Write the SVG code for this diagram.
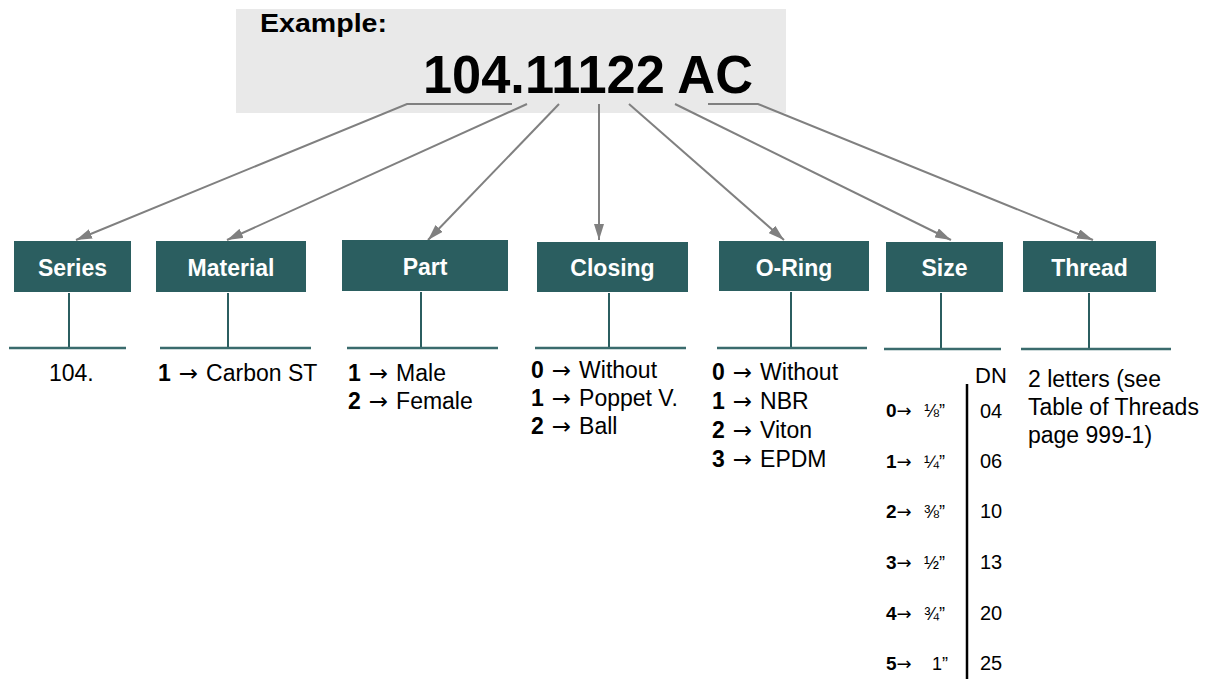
<svg xmlns="http://www.w3.org/2000/svg" width="1218" height="679" viewBox="0 0 1218 679">
<style>
text{font-family:"Liberation Sans",Arial,sans-serif;fill:#000}
.box{fill:#2B5E60}
.lbl{font-size:23px;font-weight:bold;fill:#fff;text-anchor:middle}
.stem{stroke:#2B5E60;stroke-width:2;fill:none}
.base{stroke:#3A6B6D;stroke-width:2.5;fill:none}
.con{stroke:#808080;stroke-width:2;fill:none}
.t{font-size:23px}
.b{font-weight:bold}
.a{font-family:"DejaVu Sans",sans-serif}
.s{font-size:20px}
.sd{font-size:19px;font-weight:bold}
.fr{font-size:18px}
</style>
<defs>
<marker id="ah" viewBox="0 0 16 10" refX="16" refY="5" markerWidth="16" markerHeight="10" markerUnits="userSpaceOnUse" orient="auto">
<path d="M0,0 L16,5 L0,10 z" fill="#808080"/>
</marker>
</defs>
<rect x="0" y="0" width="1218" height="679" fill="#fff"/>
<g id="header">
<rect x="236" y="9" width="550" height="104" fill="#E9E9E9"/>
<text x="260" y="32" font-size="25" font-weight="bold" textLength="127" lengthAdjust="spacingAndGlyphs">Example:</text>
<text x="423" y="93" font-size="53" font-weight="bold" textLength="330" lengthAdjust="spacingAndGlyphs">104.11122 AC</text>
</g>
<g id="connectors">
<polyline class="con" points="512,104 407,104 76,240" marker-end="url(#ah)"/>
<line class="con" x1="527" y1="104" x2="227" y2="240" marker-end="url(#ah)"/>
<line class="con" x1="559" y1="104" x2="428" y2="240" marker-end="url(#ah)"/>
<line class="con" x1="599" y1="104" x2="599" y2="240" marker-end="url(#ah)"/>
<line class="con" x1="629" y1="104" x2="784" y2="240" marker-end="url(#ah)"/>
<line class="con" x1="675" y1="104" x2="951" y2="240" marker-end="url(#ah)"/>
<polyline class="con" points="708,104 758,104 1093,240" marker-end="url(#ah)"/>
</g>
<g id="series">
<rect class="box" x="14" y="241" width="117" height="51"/>
<text class="lbl" x="72.5" y="276">Series</text>
<line class="stem" x1="69" y1="293" x2="69" y2="348"/>
<line class="base" x1="9" y1="348" x2="126" y2="348"/>
<text class="t" x="49" y="381">104.</text>
</g>
<g id="material">
<rect class="box" x="156" y="241" width="150" height="51"/>
<text class="lbl" x="231" y="276">Material</text>
<line class="stem" x1="228" y1="293" x2="228" y2="348"/>
<line class="base" x1="160" y1="348" x2="311" y2="348"/>
<text class="t" x="158" y="381"><tspan class="b">1</tspan><tspan class="a" dx="8">→</tspan><tspan dx="8">Carbon ST</tspan></text>
</g>
<g id="part">
<rect class="box" x="342" y="240" width="166" height="51"/>
<text class="lbl" x="425" y="275">Part</text>
<line class="stem" x1="421" y1="292" x2="421" y2="348"/>
<line class="base" x1="347" y1="348" x2="498" y2="348"/>
<text class="t" x="348" y="381"><tspan class="b">1</tspan><tspan class="a" dx="8">→</tspan><tspan dx="8">Male</tspan></text>
<text class="t" x="348" y="409"><tspan class="b">2</tspan><tspan class="a" dx="8">→</tspan><tspan dx="8">Female</tspan></text>
</g>
<g id="closing">
<rect class="box" x="537" y="242" width="151" height="50"/>
<text class="lbl" x="612.5" y="276">Closing</text>
<line class="stem" x1="609" y1="293" x2="609" y2="348"/>
<line class="base" x1="535" y1="348" x2="686" y2="348"/>
<text class="t" x="531" y="378"><tspan class="b">0</tspan><tspan class="a" dx="8">→</tspan><tspan dx="8">Without</tspan></text>
<text class="t" x="531" y="406"><tspan class="b">1</tspan><tspan class="a" dx="8">→</tspan><tspan dx="8">Poppet V.</tspan></text>
<text class="t" x="531" y="434"><tspan class="b">2</tspan><tspan class="a" dx="8">→</tspan><tspan dx="8">Ball</tspan></text>
</g>
<g id="oring">
<rect class="box" x="719" y="241" width="150" height="50"/>
<text class="lbl" x="794" y="276">O-Ring</text>
<line class="stem" x1="791" y1="292" x2="791" y2="348"/>
<line class="base" x1="717" y1="348" x2="867" y2="348"/>
<text class="t" x="712" y="380"><tspan class="b">0</tspan><tspan class="a" dx="8">→</tspan><tspan dx="8">Without</tspan></text>
<text class="t" x="712" y="409"><tspan class="b">1</tspan><tspan class="a" dx="8">→</tspan><tspan dx="8">NBR</tspan></text>
<text class="t" x="712" y="438"><tspan class="b">2</tspan><tspan class="a" dx="8">→</tspan><tspan dx="8">Viton</tspan></text>
<text class="t" x="712" y="467"><tspan class="b">3</tspan><tspan class="a" dx="8">→</tspan><tspan dx="8">EPDM</tspan></text>
</g>
<g id="size">
<rect class="box" x="886" y="242" width="117" height="50"/>
<text class="lbl" x="944.5" y="276">Size</text>
<line class="stem" x1="941" y1="293" x2="941" y2="349"/>
<line class="base" x1="884" y1="349" x2="1001" y2="349"/>
<text x="975" y="383" font-size="22">DN</text>
<line x1="967" y1="384" x2="967" y2="679" stroke="#000" stroke-width="2.5"/>
<text x="886" y="417"><tspan class="sd">0</tspan><tspan class="fr a">→</tspan><tspan class="fr" x="924">⅛”</tspan></text>
<text x="886" y="468"><tspan class="sd">1</tspan><tspan class="fr a">→</tspan><tspan class="fr" x="924">¼”</tspan></text>
<text x="886" y="518"><tspan class="sd">2</tspan><tspan class="fr a">→</tspan><tspan class="fr" x="924">⅜”</tspan></text>
<text x="886" y="569"><tspan class="sd">3</tspan><tspan class="fr a">→</tspan><tspan class="fr" x="924">½”</tspan></text>
<text x="886" y="620"><tspan class="sd">4</tspan><tspan class="fr a">→</tspan><tspan class="fr" x="924">¾”</tspan></text>
<text x="886" y="670"><tspan class="sd">5</tspan><tspan class="fr a">→</tspan><tspan class="fr" x="932">1”</tspan></text>
<text class="s" x="980" y="418">04</text>
<text class="s" x="980" y="468">06</text>
<text class="s" x="980" y="518">10</text>
<text class="s" x="980" y="569">13</text>
<text class="s" x="980" y="620">20</text>
<text class="s" x="980" y="670">25</text>
</g>
<g id="thread">
<rect class="box" x="1023" y="241" width="133" height="51"/>
<text class="lbl" x="1089.5" y="276">Thread</text>
<line class="stem" x1="1089" y1="293" x2="1089" y2="349"/>
<line class="base" x1="1021" y1="349" x2="1171" y2="349"/>
<text class="t" x="1028" y="387">2 letters (see</text>
<text class="t" x="1028" y="415">Table of Threads</text>
<text class="t" x="1028" y="443">page 999-1)</text>
</g>
</svg>
